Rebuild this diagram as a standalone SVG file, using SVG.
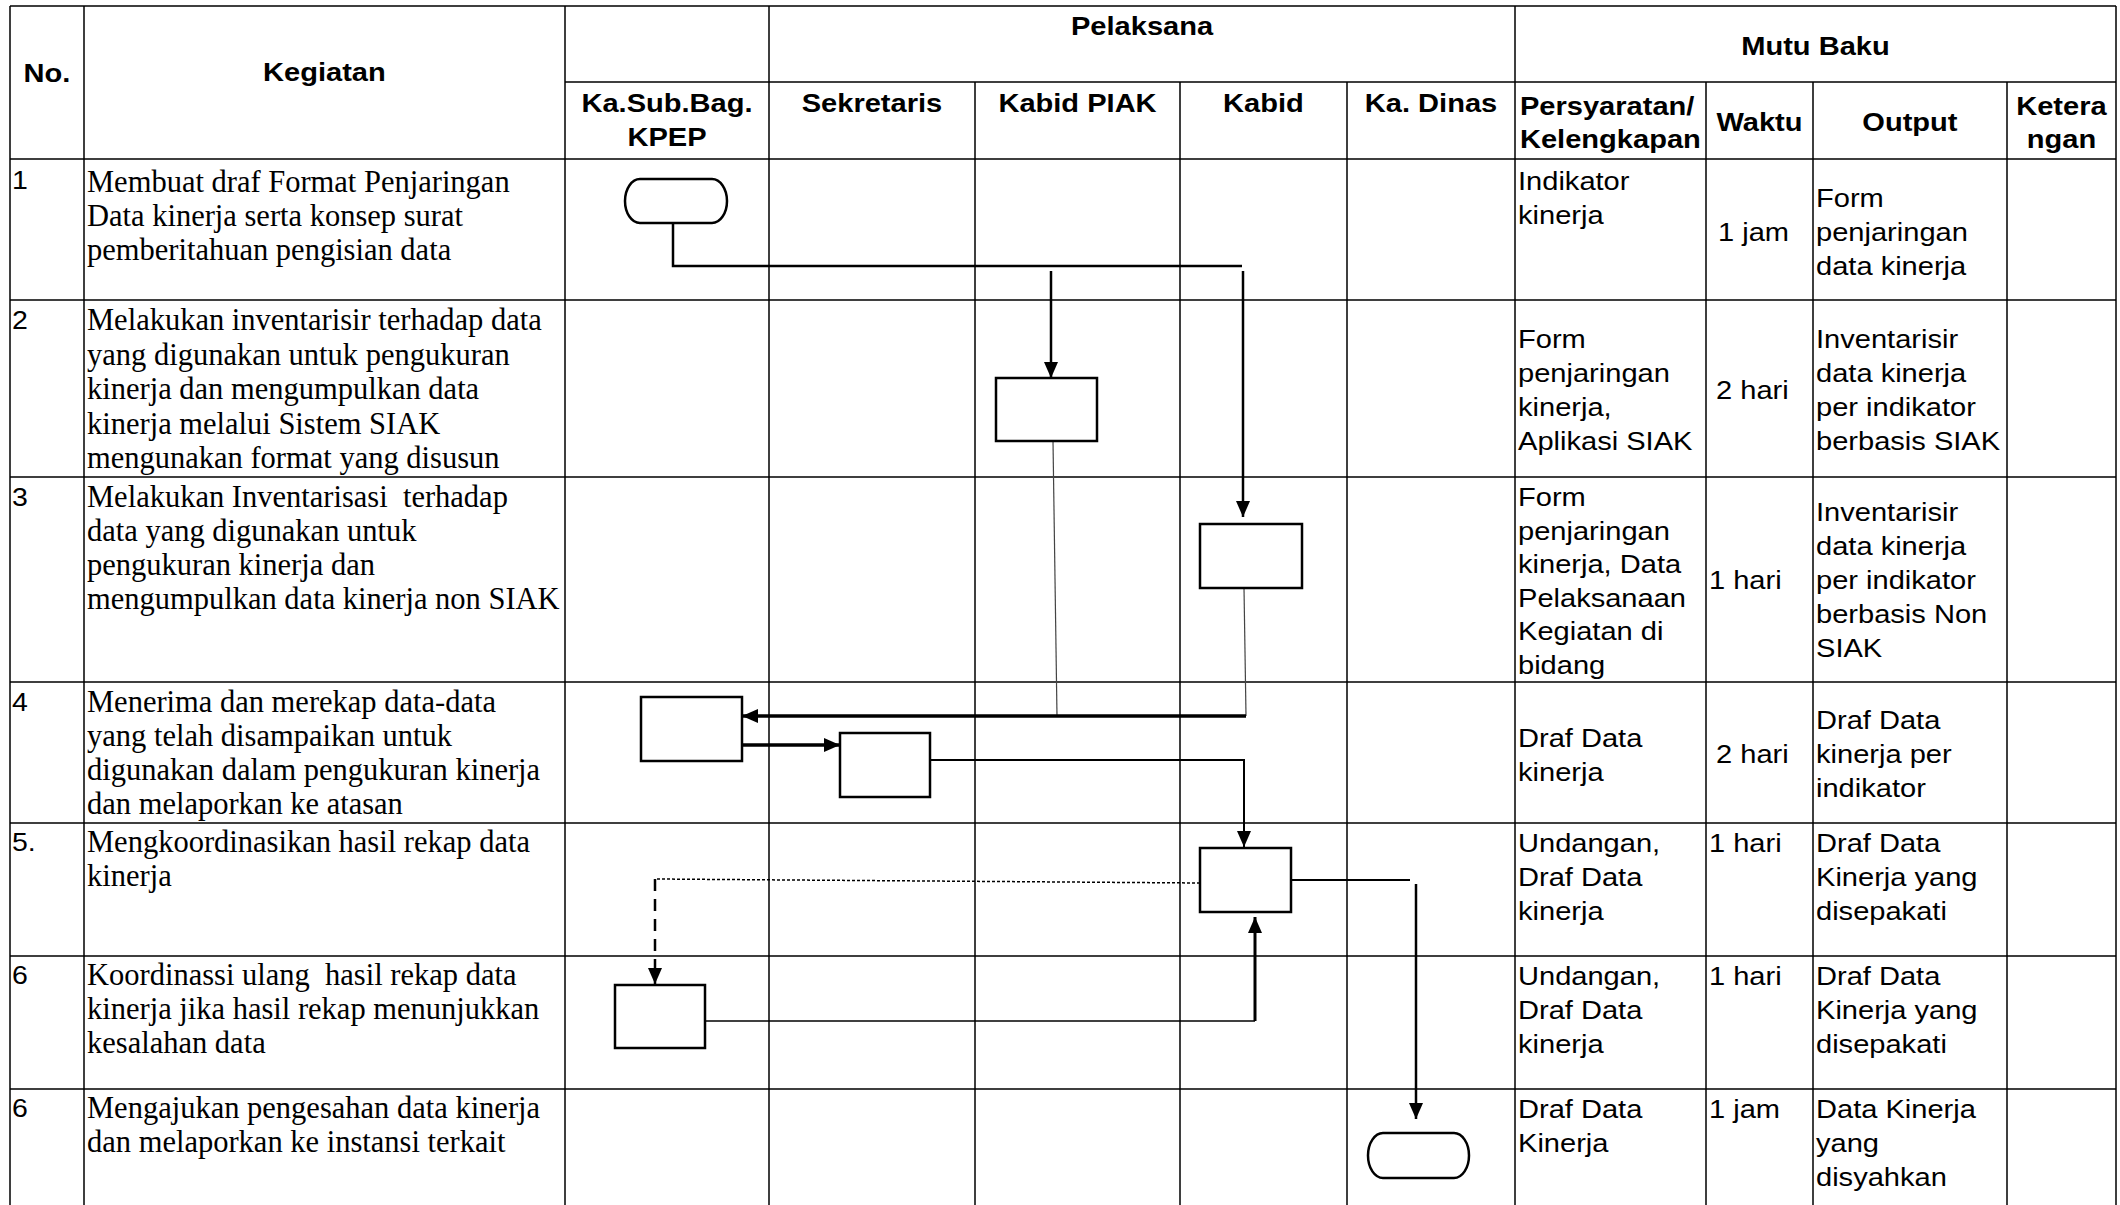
<svg xmlns="http://www.w3.org/2000/svg" width="2120" height="1205" viewBox="0 0 2120 1205">
<style>
.grid{stroke:#000;stroke-width:1.5;fill:none}
.hb{font-family:"Liberation Sans",Arial,sans-serif;font-weight:bold;font-size:25.5px;fill:#000}
.b{font-family:"Liberation Sans",Arial,sans-serif;font-size:25.5px;fill:#000}
.n{font-family:"Liberation Sans",Arial,sans-serif;font-size:25px;fill:#000}
.s{font-family:"Liberation Serif","Times New Roman",serif;font-size:30.5px;fill:#000}
.c{text-anchor:middle}
.box{fill:#fff;stroke:#000;stroke-width:2.5}
.ln{fill:none;stroke:#000;stroke-width:2.5}
.thin{fill:none;stroke:#444;stroke-width:1.2}
.thick{fill:none;stroke:#000;stroke-width:3.5}
</style>
<defs>
<marker id="ah" viewBox="0 0 16 14" refX="16" refY="7" markerWidth="16" markerHeight="14" markerUnits="userSpaceOnUse" orient="auto"><path d="M0,0 L16,7 L0,14 Z" fill="#000"/></marker>
</defs>
<rect width="2120" height="1205" fill="#fff"/>
<g id="table" class="grid">
<path d="M10,6 H2116 M565,82 H2116 M10,159 H2116 M10,300 H2116 M10,477 H2116 M10,682 H2116 M10,823 H2116 M10,956 H2116 M10,1089 H2116"/>
<path d="M10,6 V1205 M84,6 V1205 M565,6 V1205 M769,6 V1205 M1515,6 V1205 M2116,6 V1205 M975,82 V1205 M1180,82 V1205 M1347,82 V1205 M1706,82 V1205 M1813,82 V1205 M2007,82 V1205"/>
</g>
<g id="connectors">
<path class="ln" d="M673,223 V266 H1242"/>
<path class="ln" d="M1051,271 V378" marker-end="url(#ah)"/>
<path class="ln" d="M1243,271 V517" marker-end="url(#ah)"/>
<path class="thin" d="M1053,441 L1057,716"/>
<path class="thin" d="M1244,588 L1246,716"/>
<path class="thick" d="M1246,716 H742" marker-end="url(#ah)"/>
<path class="thick" d="M742,745 H840" marker-end="url(#ah)"/>
<path class="ln" style="stroke-width:2" d="M930,760 H1244 V847" marker-end="url(#ah)"/>
<path class="ln" style="stroke-width:1.5;stroke-dasharray:3 2" d="M1200,883 L655,879"/>
<path class="ln" style="stroke-dasharray:12 8" d="M655,879 V984" marker-end="url(#ah)"/>
<path class="ln" style="stroke-width:1.6" d="M705,1021 H1255"/>
<path class="ln" style="stroke-width:3" d="M1255,1021 V917" marker-end="url(#ah)"/>
<path class="ln" style="stroke-width:2.2" d="M1291,880 H1410"/>
<path class="ln" d="M1416,884 V1119" marker-end="url(#ah)"/>
</g>
<g id="n1"><path class="box" d="M640,179 H712 A15 22 0 0 1 712,223 H640 A15 22 0 0 1 640,179 Z"/></g>
<g id="n2"><rect class="box" x="996" y="378" width="101" height="63"/></g>
<g id="n3"><rect class="box" x="1200" y="524" width="102" height="64"/></g>
<g id="n4a"><rect class="box" x="641" y="697" width="101" height="64"/></g>
<g id="n4b"><rect class="box" x="840" y="733" width="90" height="64"/></g>
<g id="n5"><rect class="box" x="1200" y="848" width="91" height="64"/></g>
<g id="n6"><rect class="box" x="615" y="985" width="90" height="63"/></g>
<g id="n7"><path class="box" d="M1383,1133 H1454 A15 22.5 0 0 1 1454,1178 H1383 A15 22.5 0 0 1 1383,1133 Z"/></g>
<g id="kegiatan" class="s">
<text x="87" y="192">Membuat draf Format Penjaringan</text>
<text x="87" y="226">Data kinerja serta konsep surat</text>
<text x="87" y="260">pemberitahuan pengisian data</text>
<text x="87" y="330">Melakukan inventarisir terhadap data</text>
<text x="87" y="364.5">yang digunakan untuk pengukuran</text>
<text x="87" y="399">kinerja dan mengumpulkan data</text>
<text x="87" y="433.5">kinerja melalui Sistem SIAK</text>
<text x="87" y="468">mengunakan format yang disusun</text>
<text x="87" y="507" xml:space="preserve">Melakukan Inventarisasi  terhadap</text>
<text x="87" y="541">data yang digunakan untuk</text>
<text x="87" y="575">pengukuran kinerja dan</text>
<text x="87" y="609">mengumpulkan data kinerja non SIAK</text>
<text x="87" y="712">Menerima dan merekap data-data</text>
<text x="87" y="746">yang telah disampaikan untuk</text>
<text x="87" y="780">digunakan dalam pengukuran kinerja</text>
<text x="87" y="814">dan melaporkan ke atasan</text>
<text x="87" y="852">Mengkoordinasikan hasil rekap data</text>
<text x="87" y="886">kinerja</text>
<text x="87" y="985" xml:space="preserve">Koordinassi ulang  hasil rekap data</text>
<text x="87" y="1019">kinerja jika hasil rekap menunjukkan</text>
<text x="87" y="1053">kesalahan data</text>
<text x="87" y="1118">Mengajukan pengesahan data kinerja</text>
<text x="87" y="1152">dan melaporkan ke instansi terkait</text>
</g>
<g id="arialtext" transform="scale(1.14 1)">
<g id="header" class="hb">
<text class="c" x="41.2" y="82">No.</text>
<text class="c" x="284.6" y="81">Kegiatan</text>
<text class="c" x="1001.8" y="35">Pelaksana</text>
<text class="c" x="1592.5" y="55">Mutu Baku</text>
<text class="c" x="585.1" y="112">Ka.Sub.Bag.</text>
<text class="c" x="585.1" y="146">KPEP</text>
<text class="c" x="764.9" y="112">Sekretaris</text>
<text class="c" x="945.2" y="112">Kabid PIAK</text>
<text class="c" x="1108.3" y="112">Kabid</text>
<text class="c" x="1255.3" y="112">Ka. Dinas</text>
<text x="1333.3" y="115">Persyaratan/</text>
<text x="1333.3" y="148">Kelengkapan</text>
<text class="c" x="1543.4" y="131">Waktu</text>
<text class="c" x="1675.4" y="131">Output</text>
<text class="c" x="1808.3" y="115">Ketera</text>
<text class="c" x="1808.3" y="148">ngan</text>
</g>
<g id="numbers" class="n">
<text x="10.5" y="189">1</text>
<text x="10.5" y="329">2</text>
<text x="10.5" y="506">3</text>
<text x="10.5" y="711">4</text>
<text x="10.5" y="851">5.</text>
<text x="10.5" y="984">6</text>
<text x="10.5" y="1117">6</text>
</g>
<g id="mutu" class="b">
<text x="1331.6" y="190">Indikator</text>
<text x="1331.6" y="224">kinerja</text>
<text x="1507" y="241">1 jam</text>
<text x="1593" y="207">Form</text>
<text x="1593" y="241">penjaringan</text>
<text x="1593" y="275">data kinerja</text>
<text x="1331.6" y="348">Form</text>
<text x="1331.6" y="382">penjaringan</text>
<text x="1331.6" y="416">kinerja,</text>
<text x="1331.6" y="450">Aplikasi SIAK</text>
<text x="1505.3" y="399">2 hari</text>
<text x="1593" y="348">Inventarisir</text>
<text x="1593" y="382">data kinerja</text>
<text x="1593" y="416">per indikator</text>
<text x="1593" y="450">berbasis SIAK</text>
<text x="1331.6" y="506">Form</text>
<text x="1331.6" y="539.6">penjaringan</text>
<text x="1331.6" y="573.2">kinerja, Data</text>
<text x="1331.6" y="606.8">Pelaksanaan</text>
<text x="1331.6" y="640.4">Kegiatan di</text>
<text x="1331.6" y="674">bidang</text>
<text x="1499.1" y="589">1 hari</text>
<text x="1593" y="521">Inventarisir</text>
<text x="1593" y="555">data kinerja</text>
<text x="1593" y="589">per indikator</text>
<text x="1593" y="623">berbasis Non</text>
<text x="1593" y="657">SIAK</text>
<text x="1331.6" y="747">Draf Data</text>
<text x="1331.6" y="781">kinerja</text>
<text x="1505.3" y="763">2 hari</text>
<text x="1593" y="729">Draf Data</text>
<text x="1593" y="763">kinerja per</text>
<text x="1593" y="797">indikator</text>
<text x="1331.6" y="852">Undangan,</text>
<text x="1331.6" y="886">Draf Data</text>
<text x="1331.6" y="920">kinerja</text>
<text x="1499.1" y="852">1 hari</text>
<text x="1593" y="852">Draf Data</text>
<text x="1593" y="886">Kinerja yang</text>
<text x="1593" y="920">disepakati</text>
<text x="1331.6" y="985">Undangan,</text>
<text x="1331.6" y="1019">Draf Data</text>
<text x="1331.6" y="1053">kinerja</text>
<text x="1499.1" y="985">1 hari</text>
<text x="1593" y="985">Draf Data</text>
<text x="1593" y="1019">Kinerja yang</text>
<text x="1593" y="1053">disepakati</text>
<text x="1331.6" y="1118">Draf Data</text>
<text x="1331.6" y="1152">Kinerja</text>
<text x="1499.1" y="1118">1 jam</text>
<text x="1593" y="1118">Data Kinerja</text>
<text x="1593" y="1152">yang</text>
<text x="1593" y="1186">disyahkan</text>
</g>
</g>
</svg>
